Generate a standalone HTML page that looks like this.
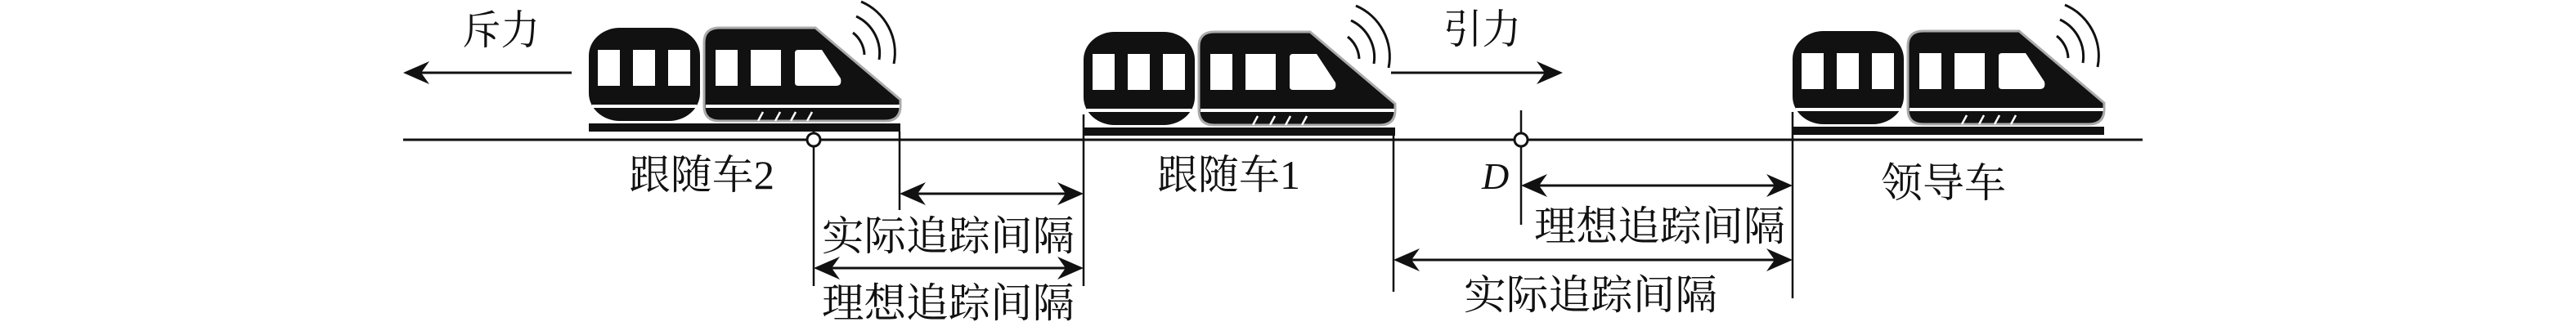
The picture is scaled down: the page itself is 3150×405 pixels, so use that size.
<!DOCTYPE html>
<html><head><meta charset="utf-8"><style>
html,body{margin:0;padding:0;background:#fff;}
svg{display:block;}
text{font-family:"Liberation Serif","Noto Serif CJK SC",serif;fill:#111;}
</style></head><body>
<svg width="3150" height="405" viewBox="0 0 3150 405" xmlns="http://www.w3.org/2000/svg">
<defs>
<g id="train">
  <rect x="0" y="0" width="136" height="114" rx="38" ry="34" fill="#111"/>
  <path d="M160 0 L277 0 L381 88 L381 96 Q381 114 362 114 L160 114 Q141 114 141 96 L141 18 Q141 0 160 0 Z" fill="#111" stroke="#aaa" stroke-width="3"/>
  <rect x="11" y="27" width="27" height="44" fill="#fff"/>
  <rect x="54" y="27" width="27" height="44" fill="#fff"/>
  <rect x="97" y="27" width="27" height="44" fill="#fff"/>
  <rect x="155" y="27" width="27" height="44" fill="#fff"/>
  <rect x="198" y="27" width="37" height="44" fill="#fff"/>
  <path d="M256 27 L285 27 L308 62 Q310 71 302 71 L256 71 Q252 71 252 67 L252 31 Q252 27 256 27 Z" fill="#fff"/>
  <rect x="4" y="94" width="128" height="4" fill="#fff"/>
  <rect x="143" y="94" width="237" height="4" fill="#fff"/>
  <g stroke="#fff" stroke-width="2.5">
    <line x1="207" y1="114" x2="213" y2="103"/>
    <line x1="228" y1="114" x2="234" y2="103"/>
    <line x1="247" y1="114" x2="253" y2="103"/>
    <line x1="267" y1="114" x2="273" y2="103"/>
  </g>
  <rect x="0" y="117" width="381" height="10" fill="#111"/>
  <g fill="none" stroke="#111" stroke-width="3">
    <path d="M323 6 A36 36 0 0 1 337 33"/>
    <path d="M327 -14 A50 50 0 0 1 355 39"/>
    <path d="M333 -32 A68 68 0 0 1 373 44"/>
  </g>
</g>
<g id="ah"><polygon points="0,0 -32,-14 -22,0 -32,14" fill="#111"/></g>
</defs>

<!-- track -->
<line x1="493" y1="171" x2="2620" y2="171" stroke="#111" stroke-width="3"/>

<use href="#train" x="720" y="34"/>
<use href="#train" x="1325" y="39"/>
<use href="#train" x="2192" y="38"/>

<!-- force arrows -->
<line x1="699" y1="89" x2="510" y2="89" stroke="#111" stroke-width="3"/>
<use href="#ah" transform="translate(493,89) rotate(180)"/>
<line x1="1701" y1="89" x2="1895" y2="89" stroke="#111" stroke-width="3"/>
<use href="#ah" transform="translate(1911,89)"/>

<!-- vertical lines -->
<g stroke="#111" stroke-width="2.5">
<line x1="995" y1="151" x2="995" y2="350"/>
<line x1="1100" y1="161" x2="1100" y2="257"/>
<line x1="1325" y1="140" x2="1325" y2="350"/>
<line x1="1704" y1="166" x2="1704" y2="357"/>
<line x1="1860" y1="135" x2="1860" y2="275"/>
<line x1="2192" y1="137" x2="2192" y2="365"/>
</g>
<circle cx="995" cy="171" r="8" fill="#fff" stroke="#111" stroke-width="3"/>
<circle cx="1860" cy="171" r="8" fill="#fff" stroke="#111" stroke-width="3"/>

<!-- dimension arrows -->
<g stroke="#111" stroke-width="3">
<line x1="1110" y1="237" x2="1314" y2="237"/>
<line x1="1005" y1="328" x2="1314" y2="328"/>
<line x1="1870" y1="227" x2="2182" y2="227"/>
<line x1="1714" y1="318" x2="2182" y2="318"/>
</g>
<use href="#ah" transform="translate(1100,237) rotate(180)"/><use href="#ah" transform="translate(1325,237)"/>
<use href="#ah" transform="translate(995,328) rotate(180)"/><use href="#ah" transform="translate(1325,328)"/>
<use href="#ah" transform="translate(1860,227) rotate(180)"/><use href="#ah" transform="translate(2192,227)"/>
<use href="#ah" transform="translate(1704,318) rotate(180)"/><use href="#ah" transform="translate(2192,318)"/>

<!-- labels -->
<g font-size="50">
<text x="565" y="54" textLength="95" lengthAdjust="spacingAndGlyphs">斥力</text>
<text x="1765" y="53" textLength="95" lengthAdjust="spacingAndGlyphs">引力</text>
<text x="769" y="231" textLength="178" lengthAdjust="spacingAndGlyphs">跟随车2</text>
<text x="1415" y="231" textLength="175" lengthAdjust="spacingAndGlyphs">跟随车1</text>
<text x="2300" y="241" textLength="153" lengthAdjust="spacingAndGlyphs">领导车</text>
<text x="1005" y="306" textLength="309" lengthAdjust="spacingAndGlyphs">实际追踪间隔</text>
<text x="1005" y="388" textLength="309" lengthAdjust="spacingAndGlyphs">理想追踪间隔</text>
<text x="1876" y="294" textLength="307" lengthAdjust="spacingAndGlyphs">理想追踪间隔</text>
<text x="1790" y="378" textLength="310" lengthAdjust="spacingAndGlyphs">实际追踪间隔</text>
<text x="1812" y="231" font-style="italic" font-size="46">D</text>
</g>
</svg>
</body></html>
